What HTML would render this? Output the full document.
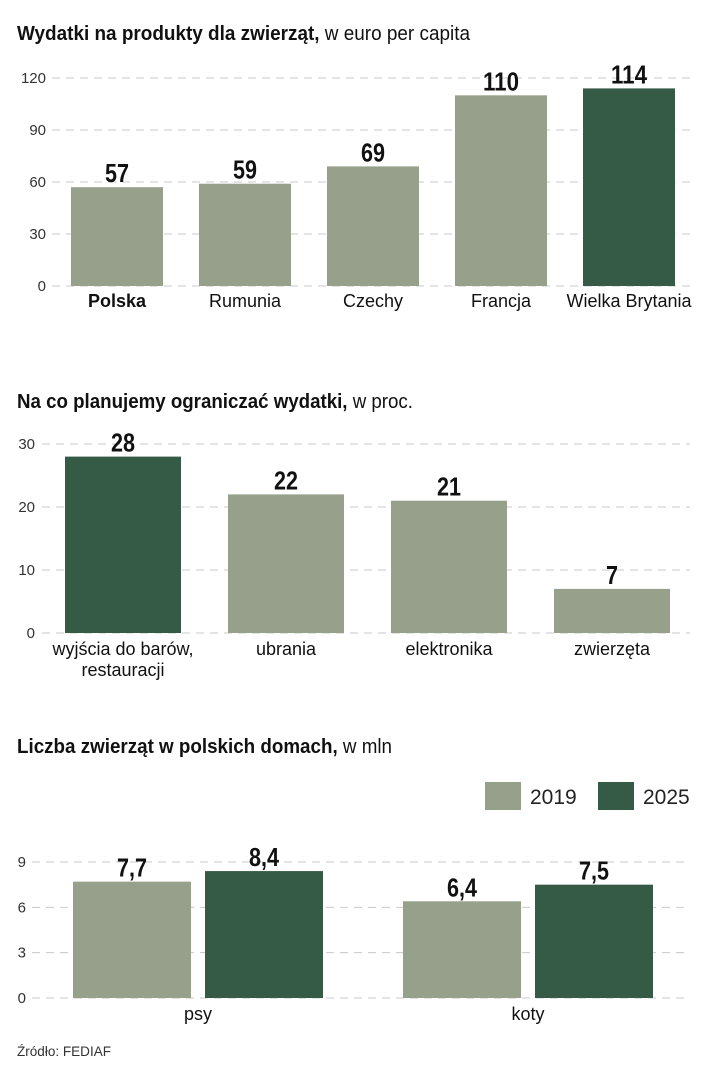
<!DOCTYPE html>
<html><head><meta charset="utf-8"><style>
html,body{margin:0;padding:0;background:#fff;width:703px;height:1080px;overflow:hidden}
svg{display:block;font-family:"Liberation Sans",sans-serif}
.ttl{font-size:20px;fill:#111}
.tick{font-size:15px;fill:#333}
.cat{font-size:18px;fill:#111}
.val{font-weight:bold;font-size:26px;fill:#111}
.grid{stroke:#c8c8c8;stroke-width:1;stroke-dasharray:8,6}
</style></head><body>
<svg id="s" width="703" height="1080" xmlns="http://www.w3.org/2000/svg">
<text class="ttl" x="17" y="40" textLength="453" lengthAdjust="spacingAndGlyphs"><tspan font-weight="bold">Wydatki na produkty dla zwierząt,</tspan> w euro per capita</text>
<text class="ttl" x="17" y="408" textLength="396" lengthAdjust="spacingAndGlyphs"><tspan font-weight="bold">Na co planujemy ograniczać wydatki,</tspan> w proc.</text>
<text class="ttl" x="17" y="753" textLength="375" lengthAdjust="spacingAndGlyphs"><tspan font-weight="bold">Liczba zwierząt w polskich domach,</tspan> w mln</text>
<rect x="485" y="782" width="36" height="28" fill="#97a08a"/>
<text x="530" y="804" font-size="21" fill="#222">2019</text>
<rect x="598" y="782" width="36" height="28" fill="#355b47"/>
<text x="643" y="804" font-size="21" fill="#222">2025</text>
<text x="17" y="1056" font-size="14" fill="#333" textLength="94" lengthAdjust="spacingAndGlyphs">Źródło: FEDIAF</text>
</svg>
<script>
const c1Cats=["Polska","Rumunia","Czechy","Francja","Wielka Brytania"];
const c1Vals=[57,59,69,110,114];
const c1Ticks=[0,30,60,90,120];
const c2Cats=[["wyjścia do barów,","restauracji"],["ubrania"],["elektronika"],["zwierzęta"]];
const c2Vals=[28,22,21,7];
const c2Ticks=[0,10,20,30];
const c3Cats=["psy","koty"];
const c3V2019=[7.7,6.4];
const c3V2025=[8.4,7.5];
const c3Ticks=[0,3,6,9];
const L="#97a08a",D="#355b47";
const svg=document.getElementById('s');
function mk(tag,attrs,txt){const e=document.createElementNS("http://www.w3.org/2000/svg",tag);for(const k in attrs)e.setAttribute(k,attrs[k]);if(txt!=null)e.textContent=txt;svg.appendChild(e);return e;}
function fmt(v){return String(v).replace('.',',');}
function tl(s){let w=0;for(const ch of s)w+=(ch==','?6:12);return w;}
function val(x,y,v){
  const s=fmt(v);
  const t=mk('text',{x:x,y:y,'text-anchor':'middle',class:'val',textLength:tl(s),lengthAdjust:'spacingAndGlyphs'},s);
  
  
}
function axis(ticks,y0,y1,max,x0,x1,tx,pre){
  const sc=v=>y0-(v/max)*(y0-y1);
  ticks.forEach(t=>{
    const g=mk('line',{x1:x0,x2:x1,y1:sc(t),y2:sc(t),class:'grid'});
    
    
    const l=mk('text',{x:tx,y:sc(t)+5,'text-anchor':'end',class:'tick'},t);
    
    
  });
  return sc;
}
// chart 1
let sc=axis(c1Ticks,286,78,120,52,690,46,'chart1');
c1Cats.forEach((c,i)=>{
  const x=71+i*128,w=92,v=c1Vals[i];
  const r=mk('rect',{x:x,y:sc(v),width:w,height:286-sc(v),fill:i==4?D:L});
  
  
  val(x+w/2,sc(v)-5,v);
  const k=mk('text',{x:x+w/2,y:307,'text-anchor':'middle',class:'cat','font-weight':i==0?'bold':'normal'},c);
  
  
});
// chart 2
sc=axis(c2Ticks,633,444,30,42,690,35,'chart2');
c2Cats.forEach((c,i)=>{
  const x=65+i*163,w=116,v=c2Vals[i];
  const r=mk('rect',{x:x,y:sc(v),width:w,height:633-sc(v),fill:i==0?D:L});
  
  
  val(x+w/2,sc(v)-5,v);
  c.forEach((ln,j)=>{
    const k=mk('text',{x:x+w/2,y:655+j*21,'text-anchor':'middle',class:'cat'},ln);
    
    
  });
});
// chart 3
sc=axis(c3Ticks,998,862,9,32,690,26,'chart3');
c3Cats.forEach((c,i)=>{
  const gx=73+i*330,w=118;
  [[c3V2019[i],L,0,'2019'],[c3V2025[i],D,132,'2025']].forEach(([v,col,off,yr])=>{
    const r=mk('rect',{x:gx+off,y:sc(v),width:w,height:998-sc(v),fill:col});
    
    
    val(gx+off+w/2,sc(v)-5,v);
  });
  const k=mk('text',{x:gx+125,y:1020,'text-anchor':'middle',class:'cat'},c);
  
  
});
</script>
</body></html>
